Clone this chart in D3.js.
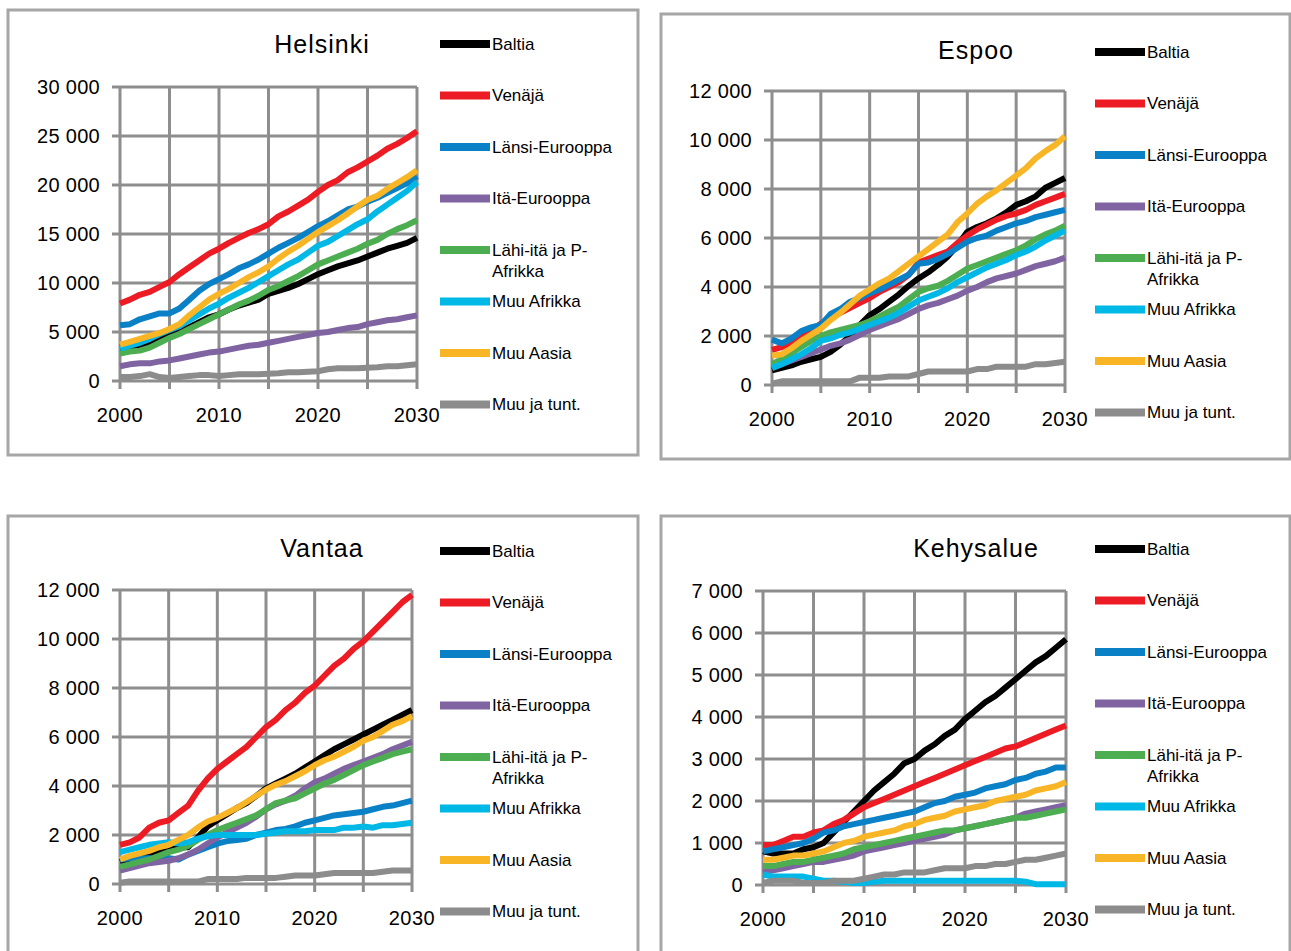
<!DOCTYPE html>
<html>
<head>
<meta charset="utf-8">
<script src="https://cdn.jsdelivr.net/npm/d3@7"></script>
<style>
  body { margin: 0; background: #fff; }
  svg text { font-family: "Liberation Sans", Arial, sans-serif; fill: #000; }
</style>
</head>
<body>
<div id="chart"></div>
<script>
// years 2000..2030
var years = d3.range(2000, 2031);

var seriesNames = ["Baltia", "Venäjä", "Länsi-Eurooppa", "Itä-Eurooppa", "Lähi-itä ja P-Afrikka", "Muu Afrikka", "Muu Aasia", "Muu ja tunt."];
var legendLabels = [["Baltia"], ["Venäjä"], ["Länsi-Eurooppa"], ["Itä-Eurooppa"], ["Lähi-itä ja P-", "Afrikka"], ["Muu Afrikka"], ["Muu Aasia"], ["Muu ja tunt."]];
var seriesColors = ["#000000", "#ed1c24", "#0a80c6", "#8064a2", "#4cae50", "#00b8e6", "#f8b626", "#8c8c8c"];

var helsinki = [
  [3400,3500,3600,3900,4300,4600,5000,5500,6000,6500,6800,7300,7700,8000,8300,8900,9200,9500,9900,10400,10900,11300,11700,12000,12300,12700,13100,13500,13800,14100,14600],
  [7900,8300,8800,9100,9600,10100,10900,11600,12300,13000,13500,14100,14600,15100,15500,16000,16800,17300,17900,18500,19300,20000,20500,21300,21800,22400,23000,23700,24200,24800,25500],
  [5700,5800,6300,6600,6900,6900,7400,8300,9200,9900,10400,10900,11500,11900,12400,13000,13600,14100,14600,15200,15800,16300,16900,17500,17800,18300,18700,19200,19700,20200,20900],
  [1500,1700,1800,1800,2000,2100,2300,2500,2700,2900,3000,3200,3400,3600,3700,3900,4100,4300,4500,4700,4900,5000,5200,5400,5500,5800,6000,6200,6300,6500,6700],
  [2800,3000,3100,3400,3900,4400,4800,5300,5800,6300,6800,7300,7800,8200,8700,9300,9700,10200,10700,11300,11900,12300,12700,13100,13500,14000,14400,15000,15500,15900,16400],
  [3300,3600,3900,4300,4800,5200,5600,6200,6800,7400,7900,8500,9000,9500,10100,10700,11300,11900,12400,13100,13800,14200,14800,15400,16000,16500,17300,18000,18700,19400,20300],
  [3700,4000,4300,4600,4900,5300,5800,6700,7500,8300,8900,9400,10000,10600,11100,11700,12500,13200,13800,14500,15200,15800,16400,17100,17800,18500,18900,19600,20200,20800,21500],
  [400,400,500,700,400,300,400,500,600,600,500,600,700,700,700,750,800,900,900,950,1000,1200,1300,1300,1300,1350,1400,1500,1500,1600,1700]
];

var espoo = [
  [600,700,800,950,1050,1150,1350,1650,2000,2450,2850,3100,3400,3700,4050,4350,4600,4900,5250,5700,6250,6450,6600,6800,7050,7350,7500,7700,8050,8250,8450],
  [1430,1550,1750,1950,2200,2500,2750,2950,3150,3350,3550,3800,4000,4200,4500,5000,5150,5300,5450,5800,6100,6350,6550,6750,6900,7000,7150,7350,7500,7650,7800],
  [1850,1700,1900,2200,2350,2450,2900,3100,3400,3550,3750,3900,4100,4300,4500,4950,5000,5150,5350,5600,5850,6000,6100,6300,6450,6600,6700,6850,6950,7050,7150],
  [700,850,1000,1150,1300,1450,1600,1700,1850,2050,2250,2400,2550,2700,2900,3100,3250,3350,3500,3650,3850,4000,4200,4350,4450,4550,4700,4850,4950,5050,5200],
  [850,1050,1300,1550,1800,2000,2150,2250,2350,2450,2600,2800,3000,3200,3500,3800,3950,4050,4250,4500,4750,4900,5050,5200,5350,5500,5700,5950,6150,6300,6500],
  [700,850,1050,1250,1500,1800,1900,2050,2150,2300,2450,2600,2750,2950,3200,3450,3600,3750,3950,4200,4400,4600,4800,4950,5100,5300,5450,5650,5900,6100,6300],
  [1200,1250,1500,1800,2050,2300,2650,2950,3300,3650,3900,4150,4350,4650,4950,5250,5550,5850,6150,6650,7000,7400,7700,7950,8250,8550,8850,9250,9550,9800,10150],
  [50,150,150,150,150,150,150,150,150,300,300,300,350,350,350,450,550,550,550,550,550,650,650,750,750,750,750,850,850,900,950]
];

var vantaa = [
  [900,1000,1100,1200,1300,1350,1500,1500,1900,2350,2600,2850,3100,3300,3600,3900,4100,4300,4500,4750,5000,5250,5500,5700,5900,6100,6300,6500,6700,6900,7100],
  [1600,1700,1900,2300,2500,2600,2900,3200,3800,4300,4700,5000,5300,5600,6000,6400,6700,7100,7400,7800,8100,8500,8900,9200,9600,9900,10300,10700,11100,11500,11800],
  [1000,1050,1050,1050,1000,1050,1000,1200,1350,1500,1650,1750,1800,1850,2000,2100,2200,2250,2350,2500,2600,2700,2800,2850,2900,2950,3050,3150,3200,3300,3400],
  [550,650,750,850,900,950,1050,1200,1400,1650,1900,2100,2300,2500,2750,3050,3250,3400,3600,3900,4150,4300,4500,4700,4850,5000,5150,5300,5500,5650,5800],
  [700,800,900,1000,1150,1300,1400,1550,1800,2000,2200,2350,2500,2650,2800,3050,3300,3400,3500,3700,3900,4100,4250,4450,4650,4850,5000,5150,5300,5400,5500],
  [1300,1400,1500,1600,1650,1700,1650,1700,1850,1950,2000,2000,2000,2000,2000,2050,2100,2150,2150,2150,2200,2200,2200,2300,2300,2350,2300,2400,2400,2450,2500],
  [1000,1150,1250,1350,1500,1600,1800,2000,2300,2550,2700,2900,3100,3350,3600,3850,4050,4200,4400,4600,4850,5050,5200,5400,5600,5850,6000,6250,6500,6650,6850],
  [50,100,100,100,100,100,100,100,100,200,200,200,200,250,250,250,250,300,350,350,350,400,450,450,450,450,450,500,550,550,550]
];

var kehysalue = [
  [800,750,750,750,850,900,1000,1250,1500,1750,2000,2250,2450,2650,2900,3000,3200,3350,3550,3700,3950,4150,4350,4500,4700,4900,5100,5300,5450,5650,5850],
  [950,950,1050,1150,1150,1250,1300,1450,1550,1700,1850,1950,2050,2150,2250,2350,2450,2550,2650,2750,2850,2950,3050,3150,3250,3300,3400,3500,3600,3700,3800],
  [800,850,900,950,1000,1100,1250,1300,1400,1450,1500,1550,1600,1650,1700,1750,1850,1950,2000,2100,2150,2200,2300,2350,2400,2500,2550,2650,2700,2800,2800],
  [300,350,400,450,500,550,550,600,650,700,800,850,900,950,1000,1050,1100,1150,1200,1300,1350,1400,1450,1500,1550,1600,1700,1750,1800,1850,1900],
  [450,450,500,550,550,600,650,700,750,850,900,950,1000,1050,1100,1150,1200,1250,1300,1300,1350,1400,1450,1500,1550,1600,1600,1650,1700,1750,1800],
  [250,200,200,200,200,150,100,100,80,50,50,80,100,100,100,100,100,100,100,100,100,100,100,100,100,100,80,20,20,20,20],
  [600,600,650,700,700,750,800,900,1000,1050,1150,1200,1250,1300,1400,1450,1550,1600,1650,1750,1800,1850,1900,2000,2050,2100,2150,2250,2300,2350,2450],
  [50,100,100,100,50,50,50,100,100,100,150,200,250,250,300,300,300,350,400,400,400,450,450,500,500,550,600,600,650,700,750]
];

var yTicksHelsinki = d3.range(0, 30001, 5000);
var yTicksEspoo = d3.range(0, 12001, 2000);
var yTicksVantaa = d3.range(0, 12001, 2000);
var yTicksKehys = d3.range(0, 7001, 1000);
var xLabelYears = [2000, 2010, 2020, 2030];
var xGridYears = d3.range(2000, 2031, 5);

// layout of the four panels
var panels = [
  {title: "Helsinki", data: helsinki, ticks: yTicksHelsinki, box: [8, 10, 630, 445], plot: [120, 417, 87, 381], titleX: 322, titleY: 44, legX: 440, legY: 44},
  {title: "Espoo", data: espoo, ticks: yTicksEspoo, box: [661, 14, 629, 445], plot: [772, 1065, 91, 385], titleX: 976, titleY: 50, legX: 1095, legY: 52},
  {title: "Vantaa", data: vantaa, ticks: yTicksVantaa, box: [8, 516, 630, 445], plot: [120, 412, 590, 884], titleX: 322, titleY: 548, legX: 440, legY: 551},
  {title: "Kehysalue", data: kehysalue, ticks: yTicksKehys, box: [661, 516, 629, 445], plot: [763, 1066, 591, 885], titleX: 976, titleY: 548, legX: 1095, legY: 549}
];

var W = 1291, H = 951;
var svg = d3.select("#chart").append("svg").attr("width", W).attr("height", H);

var gridColor = "#8e8e8e";
var fmt = function(v){ return d3.format(",")(v).replace(/,/g, " "); };

panels.forEach(function(p){
  var g = svg.append("g").attr("class", "panel");

  g.append("rect")
    .attr("x", p.box[0]).attr("y", p.box[1])
    .attr("width", p.box[2]).attr("height", p.box[3])
    .attr("fill", "#fff").attr("stroke", "#a6a6a6").attr("stroke-width", 3);

  var x = d3.scaleLinear().domain([2000, 2030]).range([p.plot[0], p.plot[1]]);
  var y = d3.scaleLinear().domain([0, d3.max(p.ticks)]).range([p.plot[3], p.plot[2]]);

  // grid
  g.append("g").selectAll("line.h").data(p.ticks).enter().append("line")
    .attr("x1", p.plot[0] - 8).attr("x2", p.plot[1])
    .attr("y1", function(d){ return y(d); }).attr("y2", function(d){ return y(d); })
    .attr("stroke", gridColor).attr("stroke-width", 3);
  g.append("g").selectAll("line.v").data(xGridYears).enter().append("line")
    .attr("x1", function(d){ return x(d); }).attr("x2", function(d){ return x(d); })
    .attr("y1", p.plot[2]).attr("y2", p.plot[3] + 8)
    .attr("stroke", gridColor).attr("stroke-width", 3);

  // y labels
  g.append("g").selectAll("text").data(p.ticks).enter().append("text")
    .attr("x", p.plot[0] - 20).attr("y", function(d){ return y(d); })
    .attr("dy", "0.35em").attr("text-anchor", "end")
    .style("font-size", "20px").style("letter-spacing", "0.3px")
    .text(fmt);

  // x labels
  g.append("g").selectAll("text").data(xLabelYears).enter().append("text")
    .attr("x", function(d){ return x(d); }).attr("y", p.plot[3] + 41)
    .attr("text-anchor", "middle")
    .style("font-size", "20px").style("letter-spacing", "0.5px")
    .text(function(d){ return d; });

  // series
  var line = d3.line()
    .x(function(d, i){ return x(years[i]); })
    .y(function(d){ return y(d); });
  g.append("g").selectAll("path").data(p.data).enter().append("path")
    .attr("d", line)
    .attr("fill", "none")
    .attr("stroke", function(d, i){ return seriesColors[i]; })
    .attr("stroke-width", 6)
    .attr("stroke-linejoin", "round");

  // title
  g.append("text")
    .attr("x", p.titleX).attr("y", p.titleY).attr("dy", "0.35em")
    .attr("text-anchor", "middle")
    .style("font-size", "25px").style("letter-spacing", "1px")
    .text(p.title);

  // legend
  var leg = g.append("g").selectAll("g").data(seriesNames).enter().append("g")
    .attr("transform", function(d, i){ return "translate(" + p.legX + "," + (p.legY + i * 51.5) + ")"; });
  leg.append("line")
    .attr("x1", 0).attr("x2", 50).attr("y1", 0).attr("y2", 0)
    .attr("stroke", function(d, i){ return seriesColors[i]; })
    .attr("stroke-width", 8);
  leg.append("text")
    .attr("x", 52).attr("dy", "0.35em")
    .style("font-size", "17px")
    .selectAll("tspan").data(function(d, i){ return legendLabels[i]; }).enter().append("tspan")
      .attr("x", 52).attr("dy", function(d, j){ return j ? "21px" : null; })
      .text(function(d){ return d; });
});
</script>
</body>
</html>
